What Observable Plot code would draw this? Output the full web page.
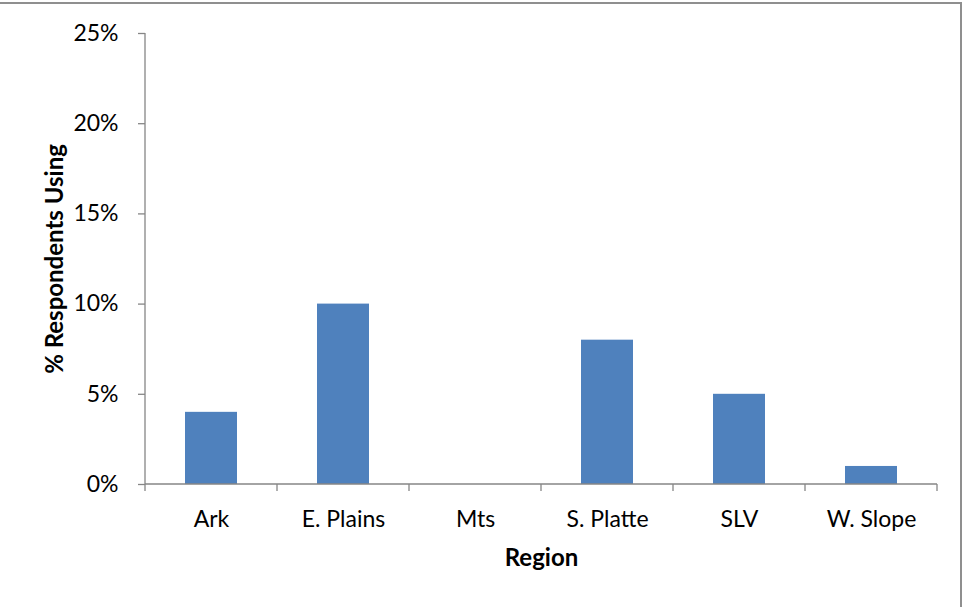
<!DOCTYPE html>
<html>
<head>
<meta charset="utf-8">
<script src="https://cdn.jsdelivr.net/npm/d3@7"></script>
<script src="https://cdn.jsdelivr.net/npm/@observablehq/plot@0.6"></script>
<style>
  html, body { margin: 0; padding: 0; background: #fff; }
  #chart { position: relative; width: 969px; height: 607px; overflow: hidden; }
  #chart svg { display: block; }
  #frame {
    position: absolute; left: -4px; top: 2px; width: 964px; height: 603px;
    border-top: 2px solid #8f8f8f; border-right: 2px solid #8f8f8f;
    border-bottom: 1px solid #e8e8e8; pointer-events: none;
  }
</style>
</head>
<body>
<div id="chart"><div id="frame"></div></div>
<script>
// Share of respondents using, by region (percent)
const regions = ["Ark", "E. Plains", "Mts", "S. Platte", "SLV", "W. Slope"];
const shares = [4, 10, 0, 8, 5, 1];
const yTicks = [0, 5, 10, 15, 20, 25];
const xTitle = "Region";
const yTitle = "% Respondents Using";

const data = regions.map((region, i) => ({region, share: shares[i]}));
const axisGray = "#868686";

// Axis lines plus category ticks placed on the boundaries between bands
function axisFrame(index, scales, values, dim) {
  const g = d3.create("svg:g")
    .attr("stroke", axisGray)
    .attr("stroke-width", 1.3)
    .attr("fill", "none");
  const x0 = dim.marginLeft, x1 = dim.width - dim.marginRight;
  const y0 = dim.marginTop, y1 = dim.height - dim.marginBottom;
  const step = (x1 - x0) / regions.length;
  g.append("line").attr("x1", x0).attr("x2", x0).attr("y1", y0).attr("y2", y1);
  g.append("line").attr("x1", x0).attr("x2", x1).attr("y1", y1).attr("y2", y1);
  for (let i = 0; i <= regions.length; ++i) {
    const x = x0 + i * step;
    g.append("line").attr("x1", x).attr("x2", x).attr("y1", y1).attr("y2", y1 + 7);
  }
  return g.node();
}

const chart = Plot.plot({
  width: 969,
  height: 607,
  marginLeft: 145,
  marginRight: 32,
  marginTop: 33,
  marginBottom: 123,
  style: {fontFamily: "Lato, 'Open Sans', sans-serif", fontSize: "23px", color: "#000", background: "transparent"},
  x: {domain: regions, paddingInner: 0.606, paddingOuter: 0.303, label: null},
  y: {domain: [0, 25], label: null},
  marks: [
    Plot.barY(data, {x: "region", y: "share", fill: "#4F81BD"}),
    Plot.axisY({ticks: yTicks, tickSize: 7, tickPadding: 20, stroke: axisGray, strokeWidth: 1.3, tickFormat: d => d + "%", label: null}),
    Plot.axisX({tickSize: 0, tickPadding: 26, label: null}),
    axisFrame,
    Plot.text([xTitle], {text: d => d, frameAnchor: "bottom", lineAnchor: "middle", textAnchor: "middle", dy: 74, fontWeight: "bold", fontSize: 24}),
    Plot.text([yTitle], {text: d => d, frameAnchor: "left", lineAnchor: "middle", textAnchor: "middle", dx: -90, rotate: -90, fontWeight: "bold", fontSize: 24})
  ]
});

document.getElementById("chart").prepend(chart);
</script>
</body>
</html>
